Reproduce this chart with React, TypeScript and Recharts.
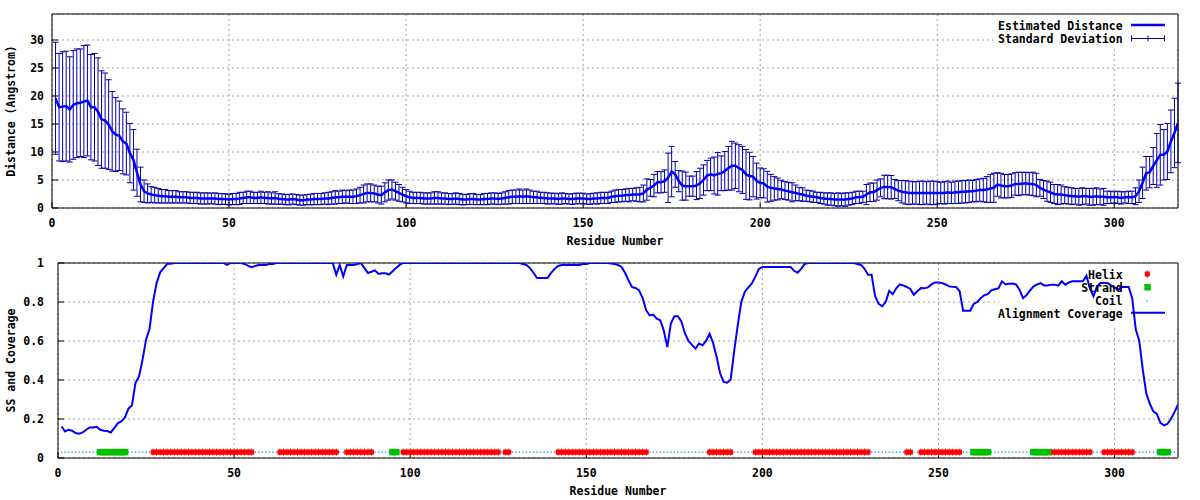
import React from "react";
import {
  CartesianGrid,
  ComposedChart,
  ErrorBar,
  Line,
  ReferenceArea,
  Scatter,
  XAxis,
  YAxis,
} from "recharts";

const residueTicks = [0, 50, 100, 150, 200, 250, 300];
const distanceTicks = [0, 5, 10, 15, 20, 25, 30];
const coverageTicks = [0, 0.2, 0.4, 0.6, 0.8, 1];

// estimated distance per residue (1..318)
const distance = [
  19.6, 18.0, 18.1, 18.2, 17.6, 18.4, 18.7, 18.8, 19.0, 19.2,
  18.0, 18.0, 17.2, 15.8, 15.6, 14.9, 13.7, 13.1, 12.9, 11.9,
  11.5, 9.8, 8.6, 6.3, 4.2, 3.0, 2.6, 2.4, 2.3, 2.2,
  2.1, 2.1, 2.0, 2.0, 2.0, 1.9, 1.9, 1.9, 1.8, 1.8,
  1.8, 1.7, 1.7, 1.7, 1.7, 1.7, 1.6, 1.6, 1.6, 1.5,
  1.6, 1.6, 1.7, 1.8, 1.9, 1.9, 1.8, 1.8, 1.9, 1.8,
  1.8, 1.7, 1.8, 1.6, 1.6, 1.5, 1.5, 1.6, 1.5, 1.4,
  1.4, 1.5, 1.5, 1.6, 1.6, 1.6, 1.7, 1.7, 1.8, 1.9,
  1.9, 2.0, 2.0, 2.0, 2.0, 2.1, 2.3, 2.5, 2.7, 2.7,
  2.6, 2.4, 2.3, 2.8, 3.2, 3.3, 3.0, 2.7, 2.4, 2.1,
  1.9, 1.8, 1.8, 1.8, 1.7, 1.7, 1.7, 1.8, 1.8, 1.7,
  1.7, 1.6, 1.6, 1.7, 1.6, 1.5, 1.5, 1.6, 1.6, 1.5,
  1.5, 1.6, 1.6, 1.7, 1.7, 1.6, 1.7, 1.8, 1.9, 2.0,
  2.0, 2.1, 2.0, 2.1, 2.0, 1.9, 1.9, 1.8, 1.8, 1.7,
  1.7, 1.7, 1.6, 1.7, 1.7, 1.6, 1.6, 1.7, 1.7, 1.7,
  1.6, 1.6, 1.7, 1.7, 1.8, 1.8, 1.8, 2.0, 2.1, 2.2,
  2.2, 2.3, 2.3, 2.4, 2.4, 2.4, 2.6, 3.3, 3.6, 4.0,
  4.6, 4.6, 4.8, 5.4, 6.5, 6.0, 4.8, 4.0, 3.9, 3.9,
  3.9, 4.0, 4.4, 5.0, 5.8, 6.0, 5.8, 6.1, 6.2, 6.6,
  7.1, 7.55, 7.55, 7.1, 6.8, 6.0, 5.7, 5.6, 4.8, 4.5,
  4.4, 3.8, 3.6, 3.5, 3.4, 3.3, 3.1, 3.0, 2.8, 2.7,
  2.5, 2.4, 2.2, 2.1, 2.0, 1.9, 1.8, 1.7, 1.6, 1.6,
  1.5, 1.5, 1.5, 1.5, 1.6, 1.7, 1.9, 1.9, 2.0, 2.4,
  2.8, 2.8, 3.2, 3.6, 3.75, 3.75, 3.7, 3.4, 3.1, 2.9,
  2.8, 2.7, 2.7, 2.7, 2.7, 2.7, 2.7, 2.7, 2.7, 2.7,
  2.7, 2.7, 2.8, 2.7, 2.8, 2.8, 2.9, 2.9, 3.0, 3.0,
  3.1, 3.2, 3.2, 3.3, 3.5, 3.6, 4.2, 4.0, 3.9, 3.9,
  4.0, 4.3, 4.3, 4.35, 4.4, 4.3, 4.3, 4.1, 3.6, 3.3,
  3.0, 2.8, 2.5, 2.4, 2.4, 2.3, 2.2, 2.1, 2.1, 2.0,
  2.1, 2.1, 2.0, 2.0, 2.1, 2.0, 2.0, 1.9, 1.9, 1.9,
  1.9, 1.8, 1.9, 1.9, 1.9, 2.1, 3.0, 4.5, 6.2, 6.4,
  7.5, 8.5, 9.5, 9.5, 10.1, 11.9, 13.4, 15.2,
];

// standard deviation per residue
const deviation = [
  10.0, 9.6, 9.8, 9.8, 9.4, 9.7, 9.7, 9.6, 10.0, 9.9,
  9.4, 9.6, 9.6, 8.7, 8.5, 8.0, 7.1, 6.6, 6.2, 5.8,
  5.6, 5.3, 5.4, 4.2, 3.1, 2.0, 1.7, 1.4, 1.4, 1.3,
  1.2, 1.2, 1.1, 1.1, 1.1, 1.0, 1.0, 1.0, 1.0, 1.0,
  1.0, 1.0, 1.0, 1.0, 0.95, 1.0, 1.0, 0.95, 0.95, 0.95,
  1.0, 1.0, 1.1, 1.0, 1.1, 1.1, 1.0, 1.0, 1.1, 1.0,
  1.1, 1.0, 1.1, 0.95, 0.9, 0.9, 0.95, 0.9, 0.9, 0.9,
  0.9, 0.9, 0.95, 1.0, 1.0, 1.0, 1.0, 1.1, 1.1, 1.2,
  1.1, 1.2, 1.1, 1.2, 1.2, 1.3, 1.4, 1.6, 1.6, 1.6,
  1.5, 1.5, 1.6, 1.7, 1.8, 1.7, 1.6, 1.5, 1.3, 1.2,
  1.1, 1.0, 1.0, 1.0, 1.0, 1.0, 1.0, 1.1, 1.1, 1.0,
  1.0, 1.0, 0.95, 1.0, 1.0, 0.95, 0.9, 0.95, 1.0, 0.9,
  0.9, 1.0, 1.0, 1.0, 1.0, 1.0, 1.0, 1.1, 1.2, 1.2,
  1.2, 1.3, 1.2, 1.3, 1.2, 1.1, 1.1, 1.0, 1.0, 1.0,
  0.95, 0.95, 0.95, 1.0, 0.9, 0.9, 0.95, 0.95, 0.95, 0.95,
  0.9, 0.95, 0.95, 1.0, 1.0, 1.0, 1.0, 1.0, 1.1, 1.1,
  1.1, 1.1, 1.2, 1.1, 1.2, 1.3, 1.5, 1.9, 1.5, 2.0,
  1.9, 1.9, 2.0, 4.4, 4.5, 2.3, 1.9, 2.6, 2.5, 1.8,
  1.8, 2.5, 2.7, 2.7, 2.7, 2.9, 3.3, 3.8, 3.1, 3.5,
  3.9, 4.35, 4.05, 4.2, 4.2, 4.45, 4.25, 3.6, 3.2, 2.65,
  2.6, 2.75, 2.4, 2.1, 1.95, 1.65, 1.6, 1.6, 1.7, 1.4,
  1.2, 1.2, 1.0, 1.0, 1.0, 0.9, 1.0, 1.0, 1.1, 1.1,
  1.1, 1.2, 1.1, 1.2, 1.1, 1.1, 1.1, 1.1, 1.0, 1.8,
  1.65, 1.65, 1.8, 1.6, 2.1, 2.1, 2.1, 1.7, 1.8, 2.0,
  2.1, 2.1, 2.0, 2.0, 2.1, 2.1, 2.0, 2.1, 2.1, 2.0,
  1.9, 2.0, 2.0, 1.9, 2.0, 2.0, 2.0, 2.0, 2.0, 1.9,
  2.0, 2.0, 2.1, 2.3, 2.5, 2.6, 2.1, 2.2, 2.1, 2.1,
  2.1, 2.0, 2.1, 2.0, 2.0, 2.0, 2.1, 2.1, 1.5, 1.6,
  1.8, 1.8, 1.7, 1.8, 1.7, 1.5, 1.5, 1.5, 1.4, 1.5,
  1.5, 1.4, 1.5, 1.5, 1.5, 1.4, 1.5, 1.1, 1.1, 1.0,
  1.1, 1.1, 1.0, 1.1, 1.1, 1.5, 2.0, 2.8, 3.0, 2.8,
  3.3, 4.8, 5.4, 4.5, 5.0, 5.6, 6.2, 7.1,
];

// alignment coverage per residue
const coverage = [
  0.162, 0.136, 0.145, 0.14, 0.128, 0.125, 0.131, 0.145, 0.157, 0.157,
  0.16, 0.145, 0.14, 0.138, 0.131, 0.154, 0.179, 0.188, 0.208, 0.253,
  0.27, 0.385, 0.418, 0.504, 0.607, 0.663, 0.803, 0.897, 0.952, 0.974,
  0.996, 0.996, 1, 1, 1, 1, 1, 1, 1, 1,
  1, 1, 1, 1, 1, 1, 1, 0.99, 1, 1,
  1, 1, 0.995, 0.985, 0.978, 0.985, 0.99, 0.99, 0.99, 0.995,
  0.995, 1, 1, 1, 1, 1, 1, 1, 1, 1,
  1, 1, 1, 1, 1, 1, 1, 1, 0.94, 0.99,
  0.931, 0.99, 0.99, 0.99, 0.995, 1, 0.974, 0.949, 0.955, 0.962,
  0.944, 0.947, 0.947, 0.94, 0.958, 0.975, 0.99, 1, 1, 1,
  1, 1, 1, 1, 1, 1, 1, 1, 1, 1,
  1, 1, 1, 1, 1, 1, 1, 1, 1, 1,
  1, 1, 1, 1, 1, 1, 1, 1, 1, 1,
  1, 0.995, 0.99, 0.974, 0.95, 0.923, 0.923, 0.923, 0.923, 0.949,
  0.97, 0.985, 0.99, 0.99, 0.99, 0.99, 0.99, 0.99, 0.995, 0.995,
  1, 1, 1, 1, 1, 1, 0.998, 0.995, 0.99, 0.98,
  0.95, 0.91, 0.876, 0.872, 0.86, 0.82, 0.757, 0.731, 0.735, 0.714,
  0.706, 0.654, 0.569, 0.689, 0.727, 0.727, 0.7, 0.64, 0.6, 0.58,
  0.561, 0.587, 0.578, 0.6, 0.637, 0.59, 0.519, 0.433, 0.39, 0.386,
  0.403, 0.55, 0.68, 0.8, 0.852, 0.875, 0.895, 0.93, 0.97, 0.98,
  0.98, 0.98, 0.98, 0.98, 0.98, 0.98, 0.98, 0.98, 0.96, 0.95,
  0.97, 0.995, 1, 1, 1, 1, 1, 1, 1, 1,
  1, 1, 1, 1, 1, 1, 0.995, 0.99, 0.97, 0.94,
  0.94, 0.83, 0.79, 0.778, 0.8, 0.857, 0.84, 0.87, 0.89, 0.885,
  0.877, 0.867, 0.837, 0.855, 0.872, 0.87, 0.875, 0.89, 0.9, 0.9,
  0.897, 0.89, 0.88, 0.878, 0.877, 0.855, 0.755, 0.755, 0.755, 0.79,
  0.8, 0.82, 0.835, 0.84, 0.86, 0.865, 0.87, 0.906, 0.89, 0.894,
  0.895, 0.89, 0.863, 0.82, 0.835, 0.86, 0.88, 0.89, 0.897, 0.885,
  0.885, 0.889, 0.889, 0.884, 0.906, 0.889, 0.9, 0.906, 0.906, 0.906,
  0.906, 0.935, 0.87, 0.829, 0.88, 0.897, 0.897, 0.897, 0.885, 0.875,
  0.863, 0.877, 0.877, 0.877, 0.82, 0.66, 0.6, 0.453, 0.33, 0.278,
  0.239, 0.226, 0.18, 0.167, 0.175, 0.2, 0.235, 0.273,
];

// secondary structure: [type, first residue, last residue]
const ssSegments: [string, number, number][] = [
  ["C", 1, 11], ["E", 12, 19], ["C", 20, 26], ["H", 27, 55], ["C", 56, 62],
  ["H", 63, 79], ["C", 80, 81], ["H", 82, 89], ["C", 90, 94], ["E", 95, 96],
  ["C", 97, 97], ["H", 98, 125], ["C", 126, 126], ["H", 127, 128], ["C", 129, 141],
  ["H", 142, 167], ["C", 168, 184], ["H", 185, 191], ["C", 192, 197], ["H", 198, 230],
  ["C", 231, 240], ["H", 241, 242], ["C", 243, 244], ["H", 245, 256], ["C", 257, 259],
  ["E", 260, 264], ["C", 265, 276], ["E", 277, 281], ["H", 282, 293], ["C", 294, 296],
  ["H", 297, 305], ["C", 306, 312], ["E", 313, 315], ["C", 316, 318],
];

const X_MAX = 318;
const D_MAX = 34.64;
const SS_LEVEL = 0.03;

const distanceRows = distance.map((d, i) => ({ res: i + 1, dist: d, sd: deviation[i] }));
const coverageRows = coverage.map((c, i) => ({ res: i + 1, cov: c }));

const ssOf = (res: number) => ssSegments.find(([, a, b]) => res >= a && res <= b)?.[0] ?? "C";
const ssTrack = (type: string) =>
  coverageRows.filter((r) => ssOf(r.res) === type).map((r) => ({ res: r.res, ss: SS_LEVEL }));
const helixPts = ssTrack("H");
const strandPts = ssTrack("E");
const coilPts = ssTrack("C");

const FONT = "'DejaVu Sans Mono', 'Liberation Mono', monospace";
const textStyle = { fill: "#000", fontSize: 11.5, fontFamily: FONT, fontWeight: 700 };
const GRID = "#a0a0a0";
const LINE_BLUE = "#0000ff";
const BAR_BLUE = "#0000a8";
const HELIX = "#ff0000";
const STRAND = "#00c000";
const COIL = "#0090ff";

function HelixMark(props: any) {
  const { cx, cy } = props;
  if (cx == null || cy == null) return null;
  return (
    <g>
      <rect x={cx - 2.5} y={cy - 2.5} width={5} height={5} fill={HELIX} />
      <rect x={cx - 0.5} y={cy - 3.5} width={1} height={7} fill={HELIX} />
    </g>
  );
}

function StrandMark(props: any) {
  const { cx, cy } = props;
  if (cx == null || cy == null) return null;
  return <rect x={cx - 3.5} y={cy - 3.25} width={7} height={6.5} fill={STRAND} />;
}

function CoilMark(props: any) {
  const { cx, cy } = props;
  if (cx == null || cy == null) return null;
  return <rect x={cx - 0.6} y={cy - 0.6} width={1.3} height={1.3} fill={COIL} />;
}

function Key() {
  const t = { ...textStyle, textAnchor: "end" as const };
  return (
    <svg
      width={1200}
      height={500}
      style={{ position: "absolute", left: 0, top: 0, pointerEvents: "none" }}
    >
      <text x={1122.7} y={30} {...t}>Estimated Distance</text>
      <line x1={1131} x2={1165} y1={25} y2={25} stroke={LINE_BLUE} strokeWidth={2.5} />
      <text x={1122.7} y={42.7} {...t}>Standard Deviation</text>
      <g stroke={BAR_BLUE} strokeWidth={1}>
        <line x1={1131} x2={1165} y1={38.5} y2={38.5} />
        <line x1={1131.5} x2={1131.5} y1={35.5} y2={41.5} />
        <line x1={1148} x2={1148} y1={35.5} y2={41.5} />
        <line x1={1164.5} x2={1164.5} y1={35.5} y2={41.5} />
      </g>

      <text x={1122.7} y={279.3} {...t}>Helix</text>
      <HelixMark cx={1147.3} cy={274} />
      <text x={1122.7} y={292.3} {...t}>Strand</text>
      <rect x={1144.3} y={284} width={6.5} height={6.5} fill={STRAND} />
      <text x={1122.7} y={305} {...t}>Coil</text>
      <CoilMark cx={1147} cy={300.7} />
      <text x={1122.7} y={317.8} {...t}>Alignment Coverage</text>
      <line x1={1131} x2={1165} y1={312.7} y2={312.7} stroke={LINE_BLUE} strokeWidth={2} />
    </svg>
  );
}

function DistancePanel() {
  return (
    <ComposedChart
      width={1200}
      height={250}
      data={distanceRows}
      margin={{ top: 13, right: 21, bottom: 0, left: 0 }}
    >
      <CartesianGrid stroke={GRID} strokeDasharray="2 3" />
      <ReferenceArea
        x1={266.9}
        x2={X_MAX}
        y1={28.9}
        y2={D_MAX}
        fill="#fff"
        fillOpacity={1}
        stroke="none"
        zIndex={-50}
      />
      <XAxis
        dataKey="res"
        type="number"
        domain={[0, X_MAX]}
        ticks={residueTicks}
        interval={0}
        allowDataOverflow
        height={42}
        stroke="#000"
        tickSize={-6}
        tickMargin={16.5}
        tick={textStyle}
        label={{ value: "Residue Number", position: "insideBottom", offset: 5, ...textStyle }}
      />
      <XAxis
        xAxisId="top"
        orientation="top"
        type="number"
        domain={[0, X_MAX]}
        ticks={residueTicks}
        interval={0}
        allowDataOverflow
        height={1}
        stroke="#000"
        tickSize={-6}
        tick={false}
      />
      <YAxis
        type="number"
        domain={[0, D_MAX]}
        ticks={distanceTicks}
        interval={0}
        allowDataOverflow
        width={52}
        stroke="#000"
        tickSize={-6}
        tickMargin={14}
        tick={textStyle}
        label={{
          value: "Distance (Angstrom)",
          angle: -90,
          position: "insideLeft",
          offset: 10.5,
          ...textStyle,
          style: { textAnchor: "middle" },
        }}
      />
      <YAxis
        yAxisId="right"
        orientation="right"
        type="number"
        domain={[0, D_MAX]}
        ticks={distanceTicks}
        interval={0}
        allowDataOverflow
        width={1}
        stroke="#000"
        tickSize={-6}
        tick={false}
      />
      <Line
        dataKey="dist"
        stroke="none"
        dot={false}
        activeDot={false}
        legendType="none"
        isAnimationActive={false}
      >
        <ErrorBar dataKey="sd" width={3} stroke={BAR_BLUE} strokeWidth={1} direction="y" isAnimationActive={false} />
      </Line>
      <Line
        type="linear"
        dataKey="dist"
        name="Estimated Distance"
        stroke={LINE_BLUE}
        strokeWidth={2.5}
        dot={false}
        activeDot={false}
        isAnimationActive={false}
        zIndex={450}
      />
    </ComposedChart>
  );
}

function CoveragePanel() {
  return (
    <ComposedChart
      width={1200}
      height={250}
      data={coverageRows}
      margin={{ top: 12, right: 21, bottom: 0, left: 0 }}
    >
      <CartesianGrid stroke={GRID} strokeDasharray="2 3" />
      <ReferenceArea
        x1={267.3}
        x2={X_MAX}
        y1={0.682}
        y2={1}
        fill="#fff"
        fillOpacity={1}
        stroke="none"
        zIndex={-50}
      />
      <XAxis
        dataKey="res"
        type="number"
        domain={[0, X_MAX]}
        ticks={residueTicks}
        interval={0}
        allowDataOverflow
        height={42}
        stroke="#000"
        tickSize={-6}
        tickMargin={16.5}
        tick={textStyle}
        label={{ value: "Residue Number", position: "insideBottom", offset: 5, ...textStyle }}
      />
      <XAxis
        xAxisId="top"
        orientation="top"
        type="number"
        domain={[0, X_MAX]}
        ticks={residueTicks}
        interval={0}
        allowDataOverflow
        height={1}
        stroke="#000"
        tickSize={-6}
        tick={false}
      />
      <YAxis
        type="number"
        domain={[0, 1]}
        ticks={coverageTicks}
        interval={0}
        allowDataOverflow
        width={58}
        stroke="#000"
        tickSize={-6}
        tickMargin={20}
        tick={textStyle}
        label={{
          value: "SS and Coverage",
          angle: -90,
          position: "insideLeft",
          offset: 11,
          ...textStyle,
          style: { textAnchor: "middle" },
        }}
      />
      <YAxis
        yAxisId="right"
        orientation="right"
        type="number"
        domain={[0, 1]}
        ticks={coverageTicks}
        interval={0}
        allowDataOverflow
        width={1}
        stroke="#000"
        tickSize={-6}
        tick={false}
      />
      <Scatter name="Helix" data={helixPts} dataKey="ss" shape={<HelixMark />} isAnimationActive={false} />
      <Scatter name="Strand" data={strandPts} dataKey="ss" shape={<StrandMark />} isAnimationActive={false} />
      <Scatter name="Coil" data={coilPts} dataKey="ss" shape={<CoilMark />} isAnimationActive={false} />
      <Line
        type="linear"
        dataKey="cov"
        name="Alignment Coverage"
        stroke={LINE_BLUE}
        strokeWidth={2}
        dot={false}
        activeDot={false}
        isAnimationActive={false}
        zIndex={650}
      />
    </ComposedChart>
  );
}

export default function App() {
  return (
    <div
      style={{
        position: "absolute",
        left: 0,
        top: 0,
        width: 1200,
        height: 500,
        background: "#fff",
        fontFamily: FONT,
      }}
    >
      <div style={{ position: "absolute", left: 0, top: 0 }}>
        <DistancePanel />
      </div>
      <div style={{ position: "absolute", left: 0, top: 250 }}>
        <CoveragePanel />
      </div>
      <Key />
    </div>
  );
}
